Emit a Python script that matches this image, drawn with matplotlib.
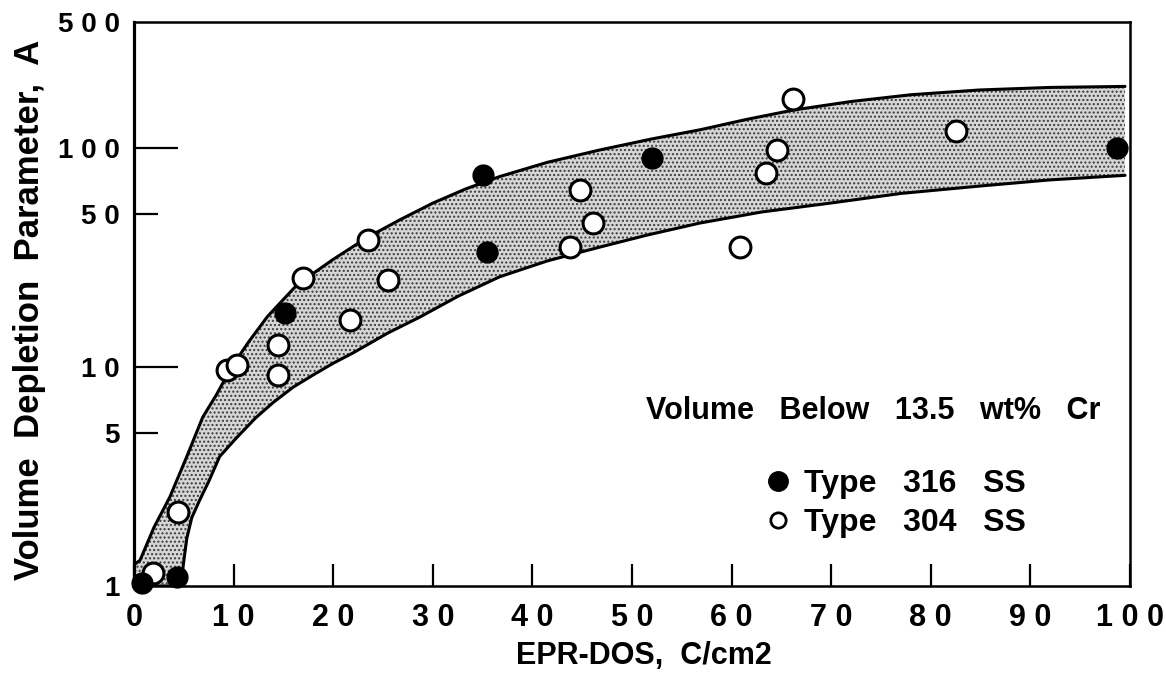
import matplotlib
matplotlib.use("Agg")
import matplotlib.pyplot as plt
from matplotlib.lines import Line2D

plt.rcParams['font.family'] = ['Liberation Sans', 'DejaVu Sans']
plt.rcParams['font.weight'] = 'bold'
plt.rcParams['hatch.color'] = '#3a3a3a'
plt.rcParams['hatch.linewidth'] = 1.0

# ---- data ----
type316_x = [0.8, 4.3, 15.2, 35.0, 35.4, 52.0, 98.7]
type316_y = [1.03, 1.10, 17.6, 75.0, 33.4, 90.0, 100.0]

type304_x = [1.9, 4.4, 9.3, 10.3, 14.5, 14.5, 17.0, 21.7, 23.5, 25.5,
             43.8, 44.8, 46.1, 60.8, 63.5, 64.6, 66.2, 82.5]
type304_y = [1.15, 2.18, 9.7, 10.2, 12.6, 9.2, 25.5, 16.4, 38.0, 25.0,
             35.3, 64.0, 45.5, 35.3, 77.0, 98.0, 168.0, 119.0]

upper_x = [0.0, 0.6, 2.0, 3.6, 5.2, 6.9, 8.3, 9.8, 11.5, 13.4, 16.4, 20.0, 23.4,
           26.7, 30.0, 33.3, 36.7, 41.5, 46.8, 52.0, 56.8, 61.5, 66.2, 72.0,
           78.0, 84.9, 92.0, 99.5]
upper_y = [1.25, 1.31, 1.85, 2.55, 3.8, 5.9, 7.5, 10.0, 13.0, 17.0, 23.8, 31.0, 39.0,
           47.0, 56.0, 65.0, 74.0, 86.0, 98.0, 110.0, 121.0, 135.0, 149.0, 163.0,
           175.0, 184.0, 189.0, 191.0]

lower_x = [0.0, 4.7, 5.0, 5.3, 5.8, 6.6, 7.5, 8.6, 10.2, 12.2, 14.0, 16.0, 18.0, 20.0,
           22.0, 25.5, 28.7, 32.5, 36.7, 41.5, 46.8, 51.5, 56.8, 63.0, 69.9,
           77.0, 84.9, 92.0, 99.5]
lower_y = [1.0, 1.0, 1.3, 1.65, 2.05, 2.47, 3.0, 3.9, 4.7, 5.85, 6.9, 8.1, 9.2, 10.4,
           11.6, 14.3, 16.9, 21.0, 25.8, 30.5, 35.3, 40.0, 45.4, 51.0, 56.0,
           62.0, 67.0, 71.5, 75.0]

x_ticks = [0, 10, 20, 30, 40, 50, 60, 70, 80, 90, 100]
x_tick_labels = [" ".join(str(v)) for v in x_ticks]
y_top = 376
y_ticks = [1, 5, 10, 50, 100, y_top]
y_tick_labels = ["1", "5", "1 0", "5 0", "1 0 0", "5 0 0"]

fig = plt.figure(figsize=(11.66, 6.90), dpi=100)
ax = fig.add_axes([134/1166, 1 - 586/690, (1130-134)/1166, (586-22)/690])
ax.set_yscale('log')
ax.set_xlim(0, 100)
ax.set_ylim(1, y_top)

# band
poly_x = upper_x + lower_x[::-1]
poly_y = upper_y + lower_y[::-1]
ax.fill(poly_x, poly_y, facecolor='#d6d6d6', edgecolor='#3a3a3a', linewidth=0,
        hatch='....', zorder=1)
ax.plot(upper_x, upper_y, color='black', lw=2.2, zorder=2, solid_capstyle='round',
        solid_joinstyle='round')
ax.plot(lower_x, lower_y, color='black', lw=2.2, zorder=2, solid_capstyle='round',
        solid_joinstyle='round')

ax.plot(type304_x, type304_y, 'o', ms=15, mfc='white', mec='black', mew=2.2,
        zorder=3, clip_on=False)
ax.plot(type316_x, type316_y, 'o', ms=15, mfc='black', mec='black', mew=1,
        zorder=4, clip_on=False)

for s in ax.spines.values():
    s.set_linewidth(1.8)
    s.set_zorder(5)
ax.spines['left'].set_linewidth(2.3)

ax.set_xticks(x_ticks)
ax.set_xticklabels(x_tick_labels, fontsize=22, fontweight='bold')
ax.yaxis.set_major_locator(matplotlib.ticker.FixedLocator(y_ticks))
ax.yaxis.set_minor_locator(matplotlib.ticker.NullLocator())
ax.set_yticklabels(y_tick_labels, fontsize=20, fontweight='bold')
ax.tick_params(axis='x', direction='in', length=16, width=1.6, pad=12)
ax.tick_params(axis='y', direction='in', length=32, width=1.6, pad=10)
for t, v in zip(ax.yaxis.get_major_ticks(), y_ticks):
    if v in (5, 50):
        t.tick1line.set_markersize(17)
    elif v == y_top or v == 1:
        t.tick1line.set_markersize(0)

ax.set_xlabel("EPR-DOS,  C/cm2", fontsize=22, fontweight='bold')
ax.xaxis.set_label_coords(0.512, -0.097)
ax.set_ylabel("Volume  Depletion  Parameter,  A", fontsize=25, fontweight='bold')
ax.yaxis.set_label_coords(-0.088, 0.489)

ax.text(0.970, 0.310, "Volume   Below   13.5   wt%   Cr", transform=ax.transAxes,
        ha='right', va='center', fontsize=22, fontweight='bold')

handles = [Line2D([], [], ls='none', marker='o', ms=14, mfc='black', mec='black'),
           Line2D([], [], ls='none', marker='o', ms=11, mfc='white', mec='black', mew=2)]
ax.legend(handles, ["Type   316   SS", "Type   304   SS"], loc='upper left',
          bbox_to_anchor=(0.634, 0.208), frameon=False,
          handlelength=0.8, handletextpad=0.4, labelspacing=0.3, borderpad=0,
          borderaxespad=0, prop={'weight': 'bold', 'size': 23})

fig.savefig("out.png", dpi=100)
